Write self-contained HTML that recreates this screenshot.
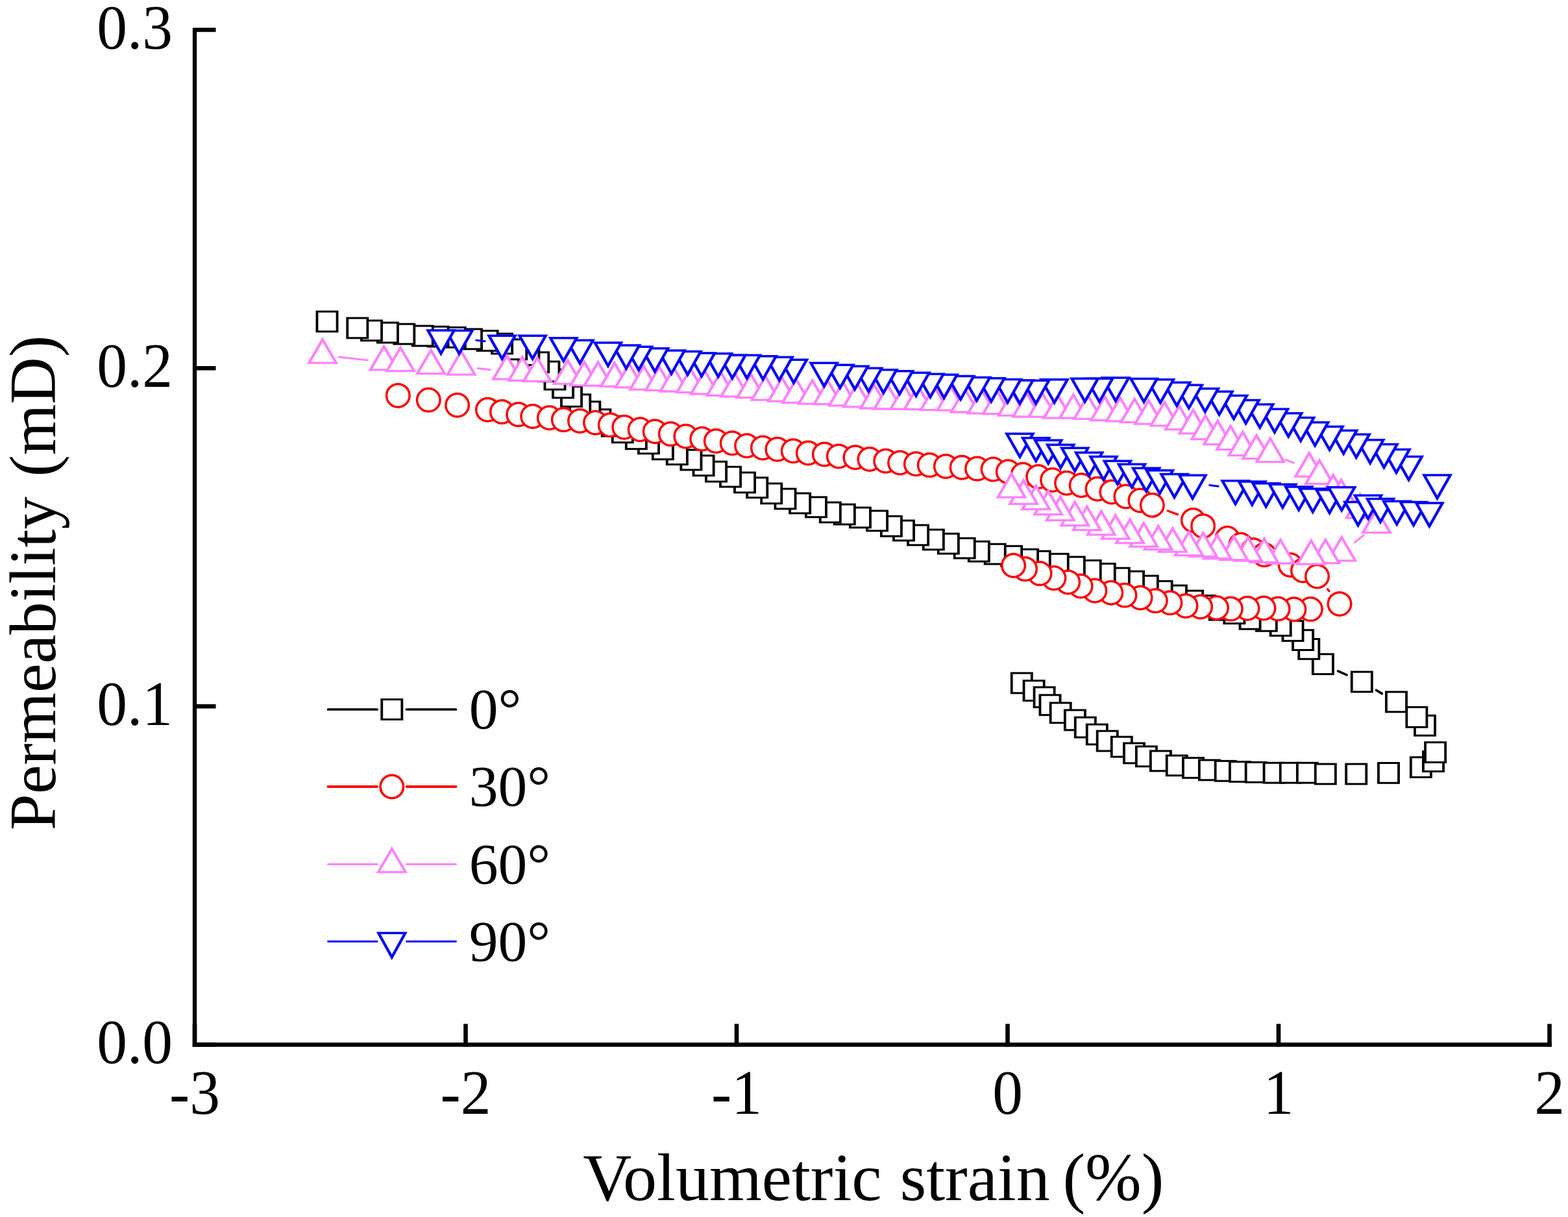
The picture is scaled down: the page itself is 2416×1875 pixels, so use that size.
<!DOCTYPE html>
<html><head><meta charset="utf-8"><title>Permeability vs Volumetric strain</title>
<style>html,body{margin:0;padding:0;background:#fff;overflow:hidden;}svg{display:block;}</style></head>
<body><svg width="2416" height="1875" viewBox="0 0 2416 1875">
<rect width="2416" height="1875" fill="#fff"/>
<path d="M2061.6 1033.8L2075.1 1039.9M2120.4 1063.3L2129.4 1068.6" fill="none" stroke="#000" stroke-width="3.6" stroke-linecap="round"/><g transform="scale(1.27,1)" fill="#fff" stroke="#000" stroke-width="3.0" stroke-miterlimit="10"><rect x="1227.36" y="1037.00" width="24.49" height="30.8"/><rect x="1242.17" y="1048.70" width="24.49" height="30.8"/><rect x="1254.76" y="1058.80" width="24.49" height="30.8"/><rect x="1261.77" y="1070.80" width="24.49" height="30.8"/><rect x="1274.53" y="1082.90" width="24.49" height="30.8"/><rect x="1292.01" y="1094.00" width="24.49" height="30.8"/><rect x="1304.53" y="1105.20" width="24.49" height="30.8"/><rect x="1318.70" y="1116.10" width="24.49" height="30.8"/><rect x="1331.22" y="1126.20" width="24.49" height="30.8"/><rect x="1348.62" y="1135.20" width="24.49" height="30.8"/><rect x="1363.74" y="1145.00" width="24.49" height="30.8"/><rect x="1378.62" y="1150.00" width="24.49" height="30.8"/><rect x="1395.94" y="1157.00" width="24.49" height="30.8"/><rect x="1415.55" y="1164.00" width="24.49" height="30.8"/><rect x="1435.39" y="1167.60" width="24.49" height="30.8"/><rect x="1455.00" y="1171.00" width="24.49" height="30.8"/><rect x="1474.53" y="1172.40" width="24.49" height="30.8"/><rect x="1492.09" y="1173.60" width="24.49" height="30.8"/><rect x="1511.54" y="1174.40" width="24.49" height="30.8"/><rect x="1533.50" y="1175.30" width="24.49" height="30.8"/><rect x="1553.35" y="1175.30" width="24.49" height="30.8"/><rect x="1573.90" y="1175.30" width="24.49" height="30.8"/><rect x="1595.87" y="1177.10" width="24.49" height="30.8"/><rect x="1633.19" y="1177.10" width="24.49" height="30.8"/><rect x="1672.40" y="1175.50" width="24.49" height="30.8"/><rect x="1711.69" y="1166.70" width="24.49" height="30.8"/><rect x="1726.73" y="1157.70" width="24.49" height="30.8"/><rect x="1729.17" y="1143.70" width="24.49" height="30.8"/><rect x="1716.50" y="1102.40" width="24.49" height="30.8"/><rect x="1706.57" y="1089.50" width="24.49" height="30.8"/><rect x="1681.85" y="1066.00" width="24.49" height="30.8"/><rect x="1639.96" y="1035.10" width="24.49" height="30.8"/><rect x="1592.80" y="1007.80" width="24.49" height="30.8"/><rect x="1575.79" y="984.50" width="24.49" height="30.8"/><rect x="1568.54" y="970.70" width="24.49" height="30.8"/><rect x="1556.26" y="956.60" width="24.49" height="30.8"/><rect x="1541.46" y="948.60" width="24.49" height="30.8"/><rect x="1524.21" y="941.40" width="24.49" height="30.8"/><rect x="1504.37" y="938.40" width="24.49" height="30.8"/><rect x="1485.31" y="929.80" width="24.49" height="30.8"/><rect x="1467.60" y="924.30" width="24.49" height="30.8"/><rect x="1449.41" y="917.60" width="24.49" height="30.8"/><rect x="1434.69" y="910.10" width="24.49" height="30.8"/><rect x="1414.84" y="902.00" width="24.49" height="30.8"/><rect x="1397.28" y="895.30" width="24.49" height="30.8"/><rect x="1380.12" y="887.10" width="24.49" height="30.8"/><rect x="1362.95" y="880.20" width="24.49" height="30.8"/><rect x="1345.47" y="875.10" width="24.49" height="30.8"/><rect x="1328.07" y="868.40" width="24.49" height="30.8"/><rect x="1310.75" y="863.40" width="24.49" height="30.8"/><rect x="1291.14" y="858.00" width="24.49" height="30.8"/><rect x="1271.38" y="853.30" width="24.49" height="30.8"/><rect x="1249.33" y="849.10" width="24.49" height="30.8"/><rect x="1234.61" y="846.30" width="24.49" height="30.8"/><rect x="1215.00" y="841.30" width="24.49" height="30.8"/><rect x="1195.00" y="838.20" width="24.49" height="30.8"/><rect x="1175.39" y="834.20" width="24.49" height="30.8"/><rect x="1157.99" y="829.20" width="24.49" height="30.8"/><rect x="1138.39" y="822.20" width="24.49" height="30.8"/><rect x="1120.28" y="816.00" width="24.49" height="30.8"/><rect x="1101.61" y="809.00" width="24.49" height="30.8"/><rect x="1084.21" y="802.00" width="24.49" height="30.8"/><rect x="1069.17" y="795.30" width="24.49" height="30.8"/><rect x="1051.93" y="787.00" width="24.49" height="30.8"/><rect x="1031.38" y="782.00" width="24.49" height="30.8"/><rect x="1012.40" y="777.10" width="24.49" height="30.8"/><rect x="995.08" y="774.00" width="24.49" height="30.8"/><rect x="977.83" y="765.90" width="24.49" height="30.8"/><rect x="958.31" y="760.00" width="24.49" height="30.8"/><rect x="940.51" y="753.10" width="24.49" height="30.8"/><rect x="923.74" y="744.90" width="24.49" height="30.8"/><rect x="906.42" y="735.90" width="24.49" height="30.8"/><rect x="891.30" y="728.00" width="24.49" height="30.8"/><rect x="873.98" y="719.20" width="24.49" height="30.8"/><rect x="856.65" y="711.20" width="24.49" height="30.8"/><rect x="841.38" y="701.90" width="24.49" height="30.8"/><rect x="826.26" y="693.10" width="24.49" height="30.8"/><rect x="809.25" y="684.80" width="24.49" height="30.8"/><rect x="791.93" y="676.90" width="24.49" height="30.8"/><rect x="774.69" y="668.00" width="24.49" height="30.8"/><rect x="759.65" y="660.90" width="24.49" height="30.8"/><rect x="743.11" y="650.90" width="24.49" height="30.8"/><rect x="730.43" y="641.20" width="24.49" height="30.8"/><rect x="716.02" y="630.80" width="24.49" height="30.8"/><rect x="703.35" y="618.80" width="24.49" height="30.8"/><rect x="691.46" y="607.80" width="24.49" height="30.8"/><rect x="681.06" y="595.60" width="24.49" height="30.8"/><rect x="670.83" y="582.10" width="24.49" height="30.8"/><rect x="660.98" y="569.30" width="24.49" height="30.8"/><rect x="653.82" y="557.00" width="24.49" height="30.8"/><rect x="641.06" y="542.80" width="24.49" height="30.8"/><rect x="629.33" y="531.60" width="24.49" height="30.8"/><rect x="614.29" y="522.90" width="24.49" height="30.8"/><rect x="596.89" y="514.10" width="24.49" height="30.8"/><rect x="579.17" y="509.60" width="24.49" height="30.8"/><rect x="559.80" y="507.00" width="24.49" height="30.8"/><rect x="539.96" y="504.40" width="24.49" height="30.8"/><rect x="519.25" y="503.20" width="24.49" height="30.8"/><rect x="500.51" y="502.10" width="24.49" height="30.8"/><rect x="478.15" y="499.20" width="24.49" height="30.8"/><rect x="458.15" y="497.10" width="24.49" height="30.8"/><rect x="438.54" y="493.90" width="24.49" height="30.8"/><rect x="421.46" y="490.00" width="24.49" height="30.8"/><rect x="384.61" y="480.00" width="24.49" height="30.8"/></g>
<path d="M1799.2 787.0L1814.5 792.7M2045.6 907.8L2047.9 910.6" fill="none" stroke="#FF0000" stroke-width="3.4" stroke-linecap="round"/><g fill="#fff" stroke="#FF0000" stroke-width="3.5" stroke-miterlimit="10"><circle cx="613.30" cy="609.40" r="17.75"/><circle cx="660.30" cy="616.30" r="17.75"/><circle cx="704.60" cy="624.30" r="17.75"/><circle cx="751.40" cy="631.20" r="17.75"/><circle cx="773.40" cy="634.50" r="17.75"/><circle cx="798.70" cy="638.60" r="17.75"/><circle cx="820.70" cy="641.50" r="17.75"/><circle cx="846.40" cy="643.70" r="17.75"/><circle cx="868.30" cy="646.60" r="17.75"/><circle cx="893.50" cy="648.50" r="17.75"/><circle cx="917.50" cy="651.30" r="17.75"/><circle cx="940.30" cy="654.80" r="17.75"/><circle cx="961.80" cy="658.20" r="17.75"/><circle cx="986.20" cy="661.70" r="17.75"/><circle cx="1009.20" cy="664.80" r="17.75"/><circle cx="1033.30" cy="668.60" r="17.75"/><circle cx="1056.80" cy="672.30" r="17.75"/><circle cx="1081.70" cy="676.30" r="17.75"/><circle cx="1103.30" cy="679.50" r="17.75"/><circle cx="1128.20" cy="682.70" r="17.75"/><circle cx="1150.60" cy="686.70" r="17.75"/><circle cx="1175.40" cy="689.90" r="17.75"/><circle cx="1197.80" cy="692.30" r="17.75"/><circle cx="1222.20" cy="694.70" r="17.75"/><circle cx="1245.30" cy="698.00" r="17.75"/><circle cx="1270.30" cy="700.00" r="17.75"/><circle cx="1292.30" cy="702.90" r="17.75"/><circle cx="1317.90" cy="704.70" r="17.75"/><circle cx="1339.90" cy="707.50" r="17.75"/><circle cx="1364.70" cy="710.20" r="17.75"/><circle cx="1386.60" cy="713.00" r="17.75"/><circle cx="1411.40" cy="714.80" r="17.75"/><circle cx="1432.30" cy="716.60" r="17.75"/><circle cx="1457.40" cy="718.50" r="17.75"/><circle cx="1482.10" cy="720.30" r="17.75"/><circle cx="1505.60" cy="722.10" r="17.75"/><circle cx="1530.10" cy="723.10" r="17.75"/><circle cx="1553.30" cy="726.70" r="17.75"/><circle cx="1576.20" cy="731.30" r="17.75"/><circle cx="1599.70" cy="734.50" r="17.75"/><circle cx="1621.60" cy="739.50" r="17.75"/><circle cx="1643.60" cy="744.30" r="17.75"/><circle cx="1666.20" cy="747.70" r="17.75"/><circle cx="1691.00" cy="753.20" r="17.75"/><circle cx="1712.90" cy="758.00" r="17.75"/><circle cx="1734.90" cy="764.90" r="17.75"/><circle cx="1756.90" cy="771.00" r="17.75"/><circle cx="1775.30" cy="778.20" r="17.75"/><circle cx="1838.40" cy="801.50" r="17.75"/><circle cx="1853.60" cy="810.40" r="17.75"/><circle cx="1891.20" cy="829.30" r="17.75"/><circle cx="1911.80" cy="839.30" r="17.75"/><circle cx="1931.00" cy="847.40" r="17.75"/><circle cx="1948.00" cy="854.70" r="17.75"/><circle cx="1988.20" cy="870.50" r="17.75"/><circle cx="2007.50" cy="879.00" r="17.75"/><circle cx="2029.50" cy="888.00" r="17.75"/><circle cx="2064.00" cy="930.40" r="17.75"/><circle cx="2019.30" cy="938.60" r="17.75"/><circle cx="1993.90" cy="938.70" r="17.75"/><circle cx="1969.10" cy="938.00" r="17.75"/><circle cx="1947.00" cy="937.00" r="17.75"/><circle cx="1922.00" cy="937.30" r="17.75"/><circle cx="1896.30" cy="938.10" r="17.75"/><circle cx="1874.50" cy="936.50" r="17.75"/><circle cx="1849.60" cy="935.00" r="17.75"/><circle cx="1827.00" cy="933.40" r="17.75"/><circle cx="1802.90" cy="928.70" r="17.75"/><circle cx="1780.30" cy="925.60" r="17.75"/><circle cx="1757.00" cy="920.90" r="17.75"/><circle cx="1732.90" cy="917.10" r="17.75"/><circle cx="1711.80" cy="913.20" r="17.75"/><circle cx="1686.90" cy="910.00" r="17.75"/><circle cx="1665.10" cy="903.00" r="17.75"/><circle cx="1645.70" cy="896.90" r="17.75"/><circle cx="1623.90" cy="890.60" r="17.75"/><circle cx="1602.10" cy="883.60" r="17.75"/><circle cx="1579.50" cy="876.60" r="17.75"/><circle cx="1561.60" cy="871.20" r="17.75"/></g>
<path d="M522.3 549.9L566.3 554.9M736.0 567.6L755.6 569.5M1981.2 708.5L1993.3 713.1M2101.1 824.6L2087.1 835.8" fill="none" stroke="#FF80FF" stroke-width="3" stroke-linecap="round"/><g transform="scale(1.27,1)" fill="#fff" stroke="#FF80FF" stroke-width="3.3" stroke-miterlimit="10"><path d="M391.34 523.10L407.87 559.20L374.80 559.20Z"/><path d="M465.83 533.70L482.36 569.80L449.29 569.80Z"/><path d="M485.83 535.60L502.36 571.70L469.29 571.70Z"/><path d="M522.83 539.50L539.37 575.60L506.30 575.60Z"/><path d="M559.53 541.10L576.06 577.20L542.99 577.20Z"/><path d="M614.96 548.00L631.50 584.10L598.43 584.10Z"/><path d="M633.78 550.30L650.31 586.40L617.24 586.40Z"/><path d="M651.81 551.20L668.35 587.30L635.28 587.30Z"/><path d="M688.82 555.30L705.35 591.40L672.28 591.40Z"/><path d="M708.82 557.70L725.35 593.80L692.28 593.80Z"/><path d="M725.59 558.00L742.13 594.10L709.06 594.10Z"/><path d="M745.67 559.20L762.20 595.30L729.13 595.30Z"/><path d="M763.39 560.80L779.92 596.90L746.85 596.90Z"/><path d="M781.02 564.00L797.56 600.10L764.49 600.10Z"/><path d="M799.92 565.30L816.46 601.40L783.39 601.40Z"/><path d="M817.64 566.90L834.17 603.00L801.10 603.00Z"/><path d="M837.80 568.50L854.33 604.60L821.26 604.60Z"/><path d="M854.88 570.90L871.42 607.00L838.35 607.00Z"/><path d="M874.41 573.30L890.94 609.40L857.87 609.40Z"/><path d="M891.42 574.90L907.95 611.00L874.88 611.00Z"/><path d="M911.02 576.50L927.56 612.60L894.49 612.60Z"/><path d="M928.66 580.00L945.20 616.10L912.13 616.10Z"/><path d="M948.90 582.10L965.43 618.20L932.36 618.20Z"/><path d="M965.91 584.30L982.44 620.40L949.37 620.40Z"/><path d="M985.59 586.10L1002.13 622.20L969.06 622.20Z"/><path d="M1004.33 586.50L1020.87 622.60L987.80 622.60Z"/><path d="M1022.60 588.80L1039.13 624.90L1006.06 624.90Z"/><path d="M1040.08 590.80L1056.61 626.90L1023.54 626.90Z"/><path d="M1060.63 592.90L1077.17 629.00L1044.09 629.00Z"/><path d="M1077.32 593.90L1093.86 630.00L1060.79 630.00Z"/><path d="M1097.17 594.00L1113.70 630.10L1080.63 630.10Z"/><path d="M1113.78 594.50L1130.31 630.60L1097.24 630.60Z"/><path d="M1133.62 595.60L1150.16 631.70L1117.09 631.70Z"/><path d="M1153.78 596.00L1170.31 632.10L1137.24 632.10Z"/><path d="M1170.47 598.90L1187.01 635.00L1153.94 635.00Z"/><path d="M1191.10 600.80L1207.64 636.90L1174.57 636.90Z"/><path d="M1209.29 601.50L1225.83 637.60L1192.76 637.60Z"/><path d="M1227.95 604.00L1244.49 640.10L1211.42 640.10Z"/><path d="M1245.67 605.90L1262.20 642.00L1229.13 642.00Z"/><path d="M1264.80 606.00L1281.34 642.10L1248.27 642.10Z"/><path d="M1282.99 608.10L1299.53 644.20L1266.46 644.20Z"/><path d="M1302.20 608.10L1318.74 644.20L1285.67 644.20Z"/><path d="M1319.84 609.20L1336.38 645.30L1303.31 645.30Z"/><path d="M1340.31 611.40L1356.85 647.50L1323.78 647.50Z"/><path d="M1358.98 612.70L1375.51 648.80L1342.44 648.80Z"/><path d="M1376.54 614.60L1393.07 650.70L1360.00 650.70Z"/><path d="M1393.70 617.00L1410.24 653.10L1377.17 653.10Z"/><path d="M1412.83 619.70L1429.37 655.80L1396.30 655.80Z"/><path d="M1430.71 625.50L1447.24 661.60L1414.17 661.60Z"/><path d="M1447.64 631.80L1464.17 667.90L1431.10 667.90Z"/><path d="M1462.52 640.50L1479.06 676.60L1445.98 676.60Z"/><path d="M1477.32 648.50L1493.86 684.60L1460.79 684.60Z"/><path d="M1492.91 656.50L1509.45 692.60L1476.38 692.60Z"/><path d="M1507.64 665.50L1524.17 701.60L1491.10 701.60Z"/><path d="M1524.41 670.60L1540.94 706.70L1507.87 706.70Z"/><path d="M1541.18 675.60L1557.72 711.70L1524.65 711.70Z"/><path d="M1588.35 698.00L1604.88 734.10L1571.81 734.10Z"/><path d="M1600.79 709.30L1617.32 745.40L1584.25 745.40Z"/><path d="M1617.40 732.00L1633.94 768.10L1600.87 768.10Z"/><path d="M1627.17 739.40L1643.70 775.50L1610.63 775.50Z"/><path d="M1650.16 761.70L1666.69 797.80L1633.62 797.80Z"/><path d="M1670.08 784.60L1686.61 820.70L1653.54 820.70Z"/><path d="M1627.72 827.80L1644.25 863.90L1611.18 863.90Z"/><path d="M1608.11 831.60L1624.65 867.70L1591.57 867.70Z"/><path d="M1590.71 833.00L1607.24 869.10L1574.17 869.10Z"/><path d="M1553.54 831.90L1570.08 868.00L1537.01 868.00Z"/><path d="M1533.86 830.20L1550.39 866.30L1517.32 866.30Z"/><path d="M1514.25 828.00L1530.79 864.10L1497.72 864.10Z"/><path d="M1497.09 826.50L1513.62 862.60L1480.55 862.60Z"/><path d="M1476.85 824.50L1493.39 860.60L1460.31 860.60Z"/><path d="M1459.61 821.30L1476.14 857.40L1443.07 857.40Z"/><path d="M1442.52 819.50L1459.06 855.60L1425.98 855.60Z"/><path d="M1422.68 814.00L1439.21 850.10L1406.14 850.10Z"/><path d="M1405.35 810.50L1421.89 846.60L1388.82 846.60Z"/><path d="M1387.64 806.00L1404.17 842.10L1371.10 842.10Z"/><path d="M1370.87 800.50L1387.40 836.60L1354.33 836.60Z"/><path d="M1353.39 794.00L1369.92 830.10L1336.85 830.10Z"/><path d="M1336.06 787.80L1352.60 823.90L1319.53 823.90Z"/><path d="M1318.74 780.60L1335.28 816.70L1302.20 816.70Z"/><path d="M1304.17 773.50L1320.71 809.60L1287.64 809.60Z"/><path d="M1286.38 765.50L1302.91 801.60L1269.84 801.60Z"/><path d="M1271.81 756.50L1288.35 792.60L1255.28 792.60Z"/><path d="M1256.85 748.50L1273.39 784.60L1240.31 784.60Z"/><path d="M1241.81 740.20L1258.35 776.30L1225.28 776.30Z"/><path d="M1227.17 730.00L1243.70 766.10L1210.63 766.10Z"/></g>
<path d="M733.8 524.2L747.3 525.8M1877.3 749.3L1863.8 747.5" fill="none" stroke="#0000FF" stroke-width="3" stroke-linecap="round"/><g transform="scale(1.27,1)" fill="#fff" stroke="#0000FF" stroke-width="3.5" stroke-miterlimit="10"><path d="M1237.32 703.80L1253.23 668.15L1221.42 668.15Z"/><path d="M1256.85 710.30L1272.76 674.65L1240.94 674.65Z"/><path d="M1271.81 714.00L1287.72 678.35L1255.91 678.35Z"/><path d="M1286.77 720.80L1302.68 685.15L1270.87 685.15Z"/><path d="M1304.09 725.80L1320.00 690.15L1288.19 690.15Z"/><path d="M1321.34 733.00L1337.24 697.35L1305.43 697.35Z"/><path d="M1338.90 739.10L1354.80 703.45L1322.99 703.45Z"/><path d="M1355.83 745.80L1371.73 710.15L1339.92 710.15Z"/><path d="M1373.15 750.80L1389.06 715.15L1357.24 715.15Z"/><path d="M1390.63 756.80L1406.54 721.15L1374.72 721.15Z"/><path d="M1407.01 760.40L1422.91 724.75L1391.10 724.75Z"/><path d="M1424.80 766.10L1440.71 730.45L1408.90 730.45Z"/><path d="M1446.85 768.00L1462.76 732.35L1430.94 732.35Z"/><path d="M1498.90 776.40L1514.80 740.75L1482.99 740.75Z"/><path d="M1519.13 777.60L1535.04 741.95L1503.23 741.95Z"/><path d="M1535.98 780.40L1551.89 744.75L1520.08 744.75Z"/><path d="M1556.14 782.00L1572.05 746.35L1540.24 746.35Z"/><path d="M1575.75 785.60L1591.65 749.95L1559.84 749.95Z"/><path d="M1592.76 788.60L1608.66 752.95L1576.85 752.95Z"/><path d="M1613.07 790.30L1628.98 754.65L1597.17 754.65Z"/><path d="M1627.72 786.30L1643.62 750.65L1611.81 750.65Z"/><path d="M1647.64 809.20L1663.54 773.55L1631.73 773.55Z"/><path d="M1659.84 799.00L1675.75 763.35L1643.94 763.35Z"/><path d="M1674.80 804.10L1690.71 768.45L1658.90 768.45Z"/><path d="M1694.65 807.80L1710.55 772.15L1678.74 772.15Z"/><path d="M1714.96 809.20L1730.87 773.55L1699.06 773.55Z"/><path d="M1734.17 810.70L1750.08 775.05L1718.27 775.05Z"/><path d="M1743.70 767.60L1759.61 731.95L1727.80 731.95Z"/><path d="M1709.13 739.20L1725.04 703.55L1693.23 703.55Z"/><path d="M1694.09 728.20L1710.00 692.55L1678.19 692.55Z"/><path d="M1679.13 720.10L1695.04 684.45L1663.23 684.45Z"/><path d="M1662.36 713.50L1678.27 677.85L1646.46 677.85Z"/><path d="M1645.43 704.80L1661.34 669.15L1629.53 669.15Z"/><path d="M1630.08 698.90L1645.98 663.25L1614.17 663.25Z"/><path d="M1613.07 693.00L1628.98 657.35L1597.17 657.35Z"/><path d="M1595.43 686.40L1611.34 650.75L1579.53 650.75Z"/><path d="M1578.11 679.10L1594.02 643.45L1562.20 643.45Z"/><path d="M1563.15 672.50L1579.06 636.85L1547.24 636.85Z"/><path d="M1546.46 665.90L1562.36 630.25L1530.55 630.25Z"/><path d="M1528.50 658.60L1544.41 622.95L1512.60 622.95Z"/><path d="M1511.50 652.20L1527.40 616.55L1495.59 616.55Z"/><path d="M1496.85 645.20L1512.76 609.55L1480.94 609.55Z"/><path d="M1479.21 638.80L1495.12 603.15L1463.31 603.15Z"/><path d="M1462.05 634.30L1477.95 598.65L1446.14 598.65Z"/><path d="M1442.36 628.80L1458.27 593.15L1426.46 593.15Z"/><path d="M1427.72 625.00L1443.62 589.35L1411.81 589.35Z"/><path d="M1407.80 620.50L1423.70 584.85L1391.89 584.85Z"/><path d="M1387.87 619.10L1403.78 583.45L1371.97 583.45Z"/><path d="M1353.54 617.60L1369.45 581.95L1337.64 581.95Z"/><path d="M1333.86 618.90L1349.76 583.25L1317.95 583.25Z"/><path d="M1316.22 618.80L1332.13 583.15L1300.31 583.15Z"/><path d="M1279.21 620.30L1295.12 584.65L1263.31 584.65Z"/><path d="M1256.69 621.80L1272.60 586.15L1240.79 586.15Z"/><path d="M1237.24 621.60L1253.15 585.95L1221.34 585.95Z"/><path d="M1222.52 620.10L1238.43 584.45L1206.61 584.45Z"/><path d="M1202.60 618.50L1218.50 582.85L1186.69 582.85Z"/><path d="M1185.04 617.10L1200.94 581.45L1169.13 581.45Z"/><path d="M1165.43 615.20L1181.34 579.55L1149.53 579.55Z"/><path d="M1145.28 612.90L1161.18 577.25L1129.37 577.25Z"/><path d="M1128.66 611.80L1144.57 576.15L1112.76 576.15Z"/><path d="M1111.42 609.90L1127.32 574.25L1095.51 574.25Z"/><path d="M1091.34 607.30L1107.24 571.65L1075.43 571.65Z"/><path d="M1071.81 605.30L1087.72 569.65L1055.91 569.65Z"/><path d="M1053.70 603.00L1069.61 567.35L1037.80 567.35Z"/><path d="M1037.09 599.80L1052.99 564.15L1021.18 564.15Z"/><path d="M1019.13 597.80L1035.04 562.15L1003.23 562.15Z"/><path d="M999.76 595.00L1015.67 559.35L983.86 559.35Z"/><path d="M962.91 589.80L978.82 554.15L947.01 554.15Z"/><path d="M945.35 585.80L961.26 550.15L929.45 550.15Z"/><path d="M925.67 584.40L941.57 548.75L909.76 548.75Z"/><path d="M906.14 582.80L922.05 547.15L890.24 547.15Z"/><path d="M888.50 582.80L904.41 547.15L872.60 547.15Z"/><path d="M871.42 580.40L887.32 544.75L855.51 544.75Z"/><path d="M851.26 579.60L867.17 543.95L835.35 543.95Z"/><path d="M834.25 577.20L850.16 541.55L818.35 541.55Z"/><path d="M814.65 575.60L830.55 539.95L798.74 539.95Z"/><path d="M794.49 572.40L810.39 536.75L778.58 536.75Z"/><path d="M774.88 570.00L790.79 534.35L758.98 534.35Z"/><path d="M759.76 567.60L775.67 531.95L743.86 531.95Z"/><path d="M737.72 563.60L753.62 527.95L721.81 527.95Z"/><path d="M703.54 559.80L719.45 524.15L687.64 524.15Z"/><path d="M683.70 556.30L699.61 520.65L667.80 520.65Z"/><path d="M646.14 552.80L662.05 517.15L630.24 517.15Z"/><path d="M609.13 552.80L625.04 517.15L593.23 517.15Z"/><path d="M557.09 544.80L572.99 509.15L541.18 509.15Z"/><path d="M535.04 544.60L550.94 508.95L519.13 508.95Z"/></g>
<path d="M300 43.0V1612.8" stroke="#000" stroke-width="6.3" fill="none"/><path d="M296.85 1609.5H2390.7" stroke="#000" stroke-width="6.7" fill="none"/><path d="M297 1609.5H332.5M297 1088.3H332.5M297 567.2H332.5M297 46.0H332.5M300.0 1612.8V1577.5M717.5 1612.8V1577.5M1135.0 1612.8V1577.5M1552.5 1612.8V1577.5M1970.0 1612.8V1577.5M2387.5 1612.8V1577.5" stroke="#000" stroke-width="6.6" fill="none" stroke-linecap="butt"/>
<g font-family="Liberation Serif" font-size="97.3" fill="#000"><text x="0" y="0" transform="translate(149.2,1638.2) scale(0.961,1)">0.0</text><text x="0" y="0" transform="translate(149.2,1117.0) scale(0.961,1)">0.1</text><text x="0" y="0" transform="translate(149.2,595.9) scale(0.961,1)">0.2</text><text x="0" y="0" transform="translate(149.2,74.7) scale(0.961,1)">0.3</text><text x="0" y="0" transform="translate(300.0,1716.4) scale(0.961,1)" text-anchor="middle">-3</text><text x="0" y="0" transform="translate(717.5,1716.4) scale(0.961,1)" text-anchor="middle">-2</text><text x="0" y="0" transform="translate(1135.0,1716.4) scale(0.961,1)" text-anchor="middle">-1</text><text x="0" y="0" transform="translate(1552.5,1716.4) scale(0.961,1)" text-anchor="middle">0</text><text x="0" y="0" transform="translate(1970.0,1716.4) scale(0.961,1)" text-anchor="middle">1</text><text x="0" y="0" transform="translate(2387.5,1716.4) scale(0.961,1)" text-anchor="middle">2</text></g>
<text y="1849" font-family="Liberation Serif" font-size="104"><tspan x="898.3">Volumetric</tspan> <tspan x="1386.7">strain</tspan> <tspan x="1637.4">(%)</tspan></text>
<text transform="translate(85,0) rotate(-90)" y="0" font-family="Liberation Serif" font-size="100.6"><tspan x="-1279.3">Permeability</tspan> <tspan x="-734.4">(mD)</tspan></text>
<path d="M505.5 1093.0H581M626.5 1093.0H702.5" stroke="#000" stroke-width="3.7" stroke-linecap="round" fill="none"/><g transform="scale(1.27,1)" fill="#fff" stroke="#000" stroke-width="3.0" stroke-miterlimit="10"><rect x="463.19" y="1077.60" width="24.49" height="30.8"/></g><text x="722.7" y="1122.4" font-family="Liberation Serif" font-size="89.5">0°</text><path d="M505.5 1212.0H581M626.5 1212.0H702.5" stroke="#FF0000" stroke-width="3.8" stroke-linecap="round" fill="none"/><g fill="#fff" stroke="#FF0000" stroke-width="3.6" stroke-miterlimit="10"><circle cx="603.80" cy="1212.00" r="17.75"/></g><text x="722.7" y="1241.4" font-family="Liberation Serif" font-size="89.5">30°</text><path d="M505.5 1331.5H581M626.5 1331.5H702.5" stroke="#FF80FF" stroke-width="3" stroke-linecap="round" fill="none"/><g transform="scale(1.27,1)" fill="#fff" stroke="#FF80FF" stroke-width="3.2" stroke-miterlimit="10"><path d="M475.43 1307.60L491.97 1343.60L458.90 1343.60Z"/></g><text x="722.7" y="1360.9" font-family="Liberation Serif" font-size="89.5">60°</text><path d="M505.5 1450.5H581M626.5 1450.5H702.5" stroke="#0000FF" stroke-width="2.9" stroke-linecap="round" fill="none"/><g transform="scale(1.27,1)" fill="#fff" stroke="#0000FF" stroke-width="3.5" stroke-miterlimit="10"><path d="M475.43 1474.80L491.65 1437.60L459.21 1437.60Z"/></g><text x="722.7" y="1479.9" font-family="Liberation Serif" font-size="89.5">90°</text>
</svg></body></html>
